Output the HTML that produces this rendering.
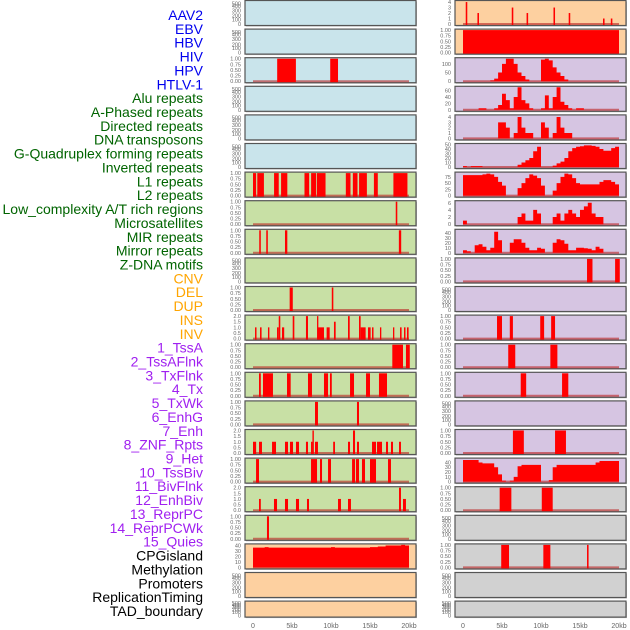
<!DOCTYPE html>
<html><head><meta charset="utf-8"><style>
html,body{margin:0;padding:0;background:#fff;width:630px;height:630px;overflow:hidden}
svg{display:block;font-family:"Liberation Sans",sans-serif}
</style></head><body>
<svg id="chart" width="630" height="630"></svg>
<script>
// ---- labels ----
const trackLabels=["AAV2","EBV","HBV","HIV","HPV","HTLV-1","Alu repeats","A-Phased repeats","Directed repeats","DNA transposons","G-Quadruplex forming repeats","Inverted repeats","L1 repeats","L2 repeats","Low_complexity A/T rich regions","Microsatellites","MIR repeats","Mirror repeats","Z-DNA motifs","CNV","DEL","DUP","INS","INV","1_TssA","2_TssAFlnk","3_TxFlnk","4_Tx","5_TxWk","6_EnhG","7_Enh","8_ZNF_Rpts","9_Het","10_TssBiv","11_BivFlnk","12_EnhBiv","13_ReprPC","14_ReprPCWk","15_Quies","CPGisland","Methylation","Promoters","ReplicationTiming","TAD_boundary"];
const labelGroups=[6,13,5,15,5];
const xTickValues=[0,5,10,15,20];
const xTickLabels=["0","5kb","10kb","15kb","20kb"];

// ---- left column interval data [startKb,endKb,value] ----
const L_hiv=[[3.1,5.5,1],[9.9,10.9,1]];
const L_r6=[[0,0.4,1],[0.55,1.4,1],[2.7,3.3,1],[3.6,4.4,1],[6.6,7.2,1],[7.45,8.1,1],[8.2,9.3,1],[11.9,12.5,1],[12.8,13.4,1],[13.6,14.6,1],[15.5,16,1],[18,19.8,1]];
const L_r7=[[18.3,18.5,1]];
const L_r8=[[0.8,1.0,1],[1.7,1.9,1],[4.1,4.4,1],[18.7,19.0,1]];
const L_r10=[[4.7,5.1,1],[10.1,10.3,1]];
const L_r11=[[0.26,0.45,1],[0.9,1.1,1],[1.92,2.1,1],[3.08,3.3,1],[3.3,3.5,2],[3.72,4.0,1],[5.09,5.3,2],[6.79,7.05,2],[8.21,8.33,2],[8.33,9.1,1],[9.44,9.83,1],[10.38,10.6,1.5],[12.18,12.4,2],[13.59,13.8,2],[13.8,14.44,1],[14.74,15.08,1],[15.26,15.45,1],[16.28,16.45,1],[17.95,18.1,1],[18.85,19.05,1],[19.36,19.55,1],[19.74,19.95,1]];
const L_r12=[[17.86,19.23,1],[19.61,20.1,1]];
const L_r13=[[0.77,1.0,1],[1.28,2.56,1],[4.36,4.83,1],[7.05,7.56,1],[9.1,9.62,1],[9.87,10.1,1],[12.44,12.95,1],[14.49,15.0,1],[16.15,17.18,1]];
const L_r14=[[7.95,8.33,1],[13.33,13.59,1]];
const L_r15=[[0,0.4,1],[0.77,1.15,1],[2.44,2.95,1],[4.1,4.49,1],[4.74,5.13,1],[5.51,5.9,1],[6.79,7.05,1],[7.44,7.62,1],[7.62,7.8,2],[7.95,8.33,1],[10.28,10.51,1],[12.18,12.44,1],[12.82,13.08,2],[13.33,13.59,1],[15.26,15.77,1],[15.9,16.54,1],[17.05,17.31,1],[17.69,17.95,1],[18.72,18.97,1]];
const L_r16=[[0.39,0.77,1],[7.44,8.21,1],[8.59,8.85,1],[9.62,10.0,1],[12.7,13.08,1],[13.2,13.59,1],[13.97,14.36,1],[15.0,15.77,1],[17.31,17.69,1]];
const L_r17=[[0.77,1.0,1],[2.69,3.08,1],[4.1,4.49,1],[5.51,5.9,1],[6.92,7.18,1],[10.9,11.28,1],[12.18,12.56,1],[18.72,18.97,2],[19.23,19.61,1]];
const L_r18=[[1.79,2.05,1]];
// binned (0.5kb) values
const L_cpg=[36,36,36,37,36,36,36,36,36,36,36,36,36,36,36,36,36,36,36,36,37,36,36,36,36,36,36,36,36,36,37,37,38,38,40,40,40,40,41,40];

// ---- right column ----
const R_aav=[[0.35,0.55,4],[1.85,2.05,2],[6.25,6.45,3],[8.15,8.35,2],[11.6,11.8,3],[13.55,13.75,2],[17.95,18.15,1],[18.95,19.15,1]];
const R_ebv=[[0,20,1]];
const R_a2=[0,0,0,0,0,0,0,5,15,50,100,130,130,100,50,30,10,0,0,0,125,130,120,80,50,30,10,0,0,0,0,0,0,0,0,0,0,0,0,0];
const R_a3=[0,0,0,0,5,5,0,0,5,15,50,30,5,40,70,30,20,5,0,0,5,45,5,40,70,25,15,5,0,5,5,0,0,0,0,0,0,0,0,0];
const R_a4=[0,0,0,0,0,0,0,0,0,3,3,2,0,1,4,2,1,1,0,0,3,2,0,1,4,2,1,1,0,0,0,0,0,0,0,0,0,0,0,0];
const R_a5=[2,0,2,2,2,0,0,0,0,0,0,0,0,0,5,10,15,20,35,45,0,0,0,3,8,12,20,35,42,45,46,48,48,47,45,40,36,36,42,45];
const R_a6=[82,82,82,82,82,85,88,85,75,55,40,0,0,0,30,50,70,85,80,70,40,0,0,20,50,75,88,85,70,50,45,45,45,45,45,55,62,62,55,45];
const R_a7=[1,0,0,0,0,0,0,0,0,0,0,0,0,0,2,3,1,1,4,3,0,0,0,2,3,1,3,4,3,2,4,5,6,3,2,2,0,0,0,0];
const R_a8=[5,3,0,15,17,12,5,10,42,25,0,0,20,27,27,20,10,5,5,10,8,0,0,20,27,25,18,5,5,10,10,9,8,5,12,8,0,0,0,0];
const R_r9=[[15.9,16.6,1],[19.5,20.1,1]];
const R_r11=[[4.36,5.0,1],[6.0,6.4,1],[9.9,10.4,1],[11.3,11.8,1]];
const R_r12=[[5.8,6.7,1],[11.2,12.1,1]];
const R_r13=[[7.4,8.1,1],[12.7,13.5,1]];
const R_r15=[[6.4,7.8,1],[11.8,13.2,1]];
const R_a16=[45,45,45,45,40,38,38,38,30,15,2,0,2,10,32,35,35,35,35,35,0,0,3,30,35,35,35,35,35,35,35,35,35,35,40,43,43,43,43,43];
const R_r17=[[4.7,6.2,1],[10.1,11.5,1]];
const R_r19=[[4.9,5.9,1],[10.3,11.2,1],[15.9,16.1,1]];

const T01=[[0,"0.00"],[0.25,"0.25"],[0.5,"0.50"],[0.75,"0.75"],[1,"1.00"]];
const T02=[[0,"0.0"],[0.5,"0.5"],[1,"1.0"],[1.5,"1.5"],[2,"2.0"]];
const BG={b:"#c9e4eb",g:"#c8e0a5",o:"#fdd0a0",p:"#d6c5e2",y:"#d1d1d1"};
function E(bg){return {bg:bg,type:"empty"};}
function B(bg,d,ymax,t){return {bg:bg,type:"bars",data:d,ymax:ymax,ticks:t};}
function A(bg,d,ymax,t){return {bg:bg,type:"area",data:d,ymax:ymax,ticks:t};}
const leftPanels=[E("b"),E("b"),B("b",L_hiv,1,T01),E("b"),E("b"),E("b"),
 B("g",L_r6,1,T01),B("g",L_r7,1,T01),B("g",L_r8,1,T01),E("g"),B("g",L_r10,1,T01),B("g",L_r11,2,T02),B("g",L_r12,1,T01),
 B("g",L_r13,1,T01),B("g",L_r14,1,T01),B("g",L_r15,2,T02),B("g",L_r16,1,T01),B("g",L_r17,2,T02),B("g",L_r18,1,T01),
 A("o",L_cpg,41,[[0,"0"],[10,"10"],[20,"20"],[30,"30"],[40,"40"]]),E("o"),E("o")];
const rightPanels=[B("o",R_aav,4.1,[[0,"0"],[1,"1"],[2,"2"],[3,"3"],[4,"4"]]),B("o",R_ebv,1,T01),
 A("p",R_a2,130,[[0,"0"],[50,"50"],[100,"100"]]),
 A("p",R_a3,70,[[0,"0"],[20,"20"],[40,"40"],[60,"60"]]),
 A("p",R_a4,4.2,[[0,"0"],[1,"1"],[2,"2"],[3,"3"],[4,"4"]]),
 A("p",R_a5,50,[[0,"0"],[10,"10"],[20,"20"],[30,"30"],[40,"40"],[50,"50"]]),
 A("p",R_a6,90,[[0,"0"],[25,"25"],[50,"50"],[75,"75"]]),
 A("p",R_a7,6.3,[[0,"0"],[2,"2"],[4,"4"],[6,"6"]]),
 A("p",R_a8,45,[[0,"0"],[10,"10"],[20,"20"],[30,"30"],[40,"40"]]),
 B("p",R_r9,1,T01),E("p"),B("p",R_r11,1,T01),B("p",R_r12,1,T01),B("p",R_r13,1,T01),E("p"),B("p",R_r15,1,T01),
 A("p",R_a16,47,[[0,"0"],[10,"10"],[20,"20"],[30,"30"],[40,"40"]]),
 B("y",R_r17,1,T01),E("y"),B("y",R_r19,1,T01),E("y"),E("y")];

const NS="http://www.w3.org/2000/svg";
const svg=document.getElementById("chart");
function mk(tag,attrs,parent){const e=document.createElementNS(NS,tag);for(const k in attrs)e.setAttribute(k,attrs[k]);(parent||svg).appendChild(e);return e;}

const groupColors=["#0000ee","#006400","#ffa500","#a020f0","#000000"];
let gi=0,gc=0;
trackLabels.forEach((t,i)=>{
  const el=mk("text",{x:203,y:15+i*13.86+5,"text-anchor":"end","font-size":"14",fill:groupColors[gi]});
  el.textContent=t;
  
  
  gc++; if(gi<4&&gc>=labelGroups[gi]){gi++;gc=0;}
});

function panel(col,i,p){
  const x0=col===0?245:455, w=171;
  const top=i*28.6+0.5, h=(i===21?16:25);
  const xs=kb=>x0+8+kb*7.8;
  const ys=v=>top+h-1.5-(v/p.ymax)*(h-2.5);
  const g=mk("g",{});
  
  
  mk("rect",{x:x0+1,y:top+1,width:w,height:h,fill:"#bbb"},g);
  mk("rect",{x:x0,y:top,width:w,height:h,fill:BG[p.bg],stroke:"#555","stroke-width":1.2},g);
  const tx=x0-4;
  if(p.type==="empty"){
    const fr=i===21?[[0,"0"],[0.25,"100"],[0.45,"200"],[0.65,"300"],[0.8,"400"],[0.92,"500"]]:[[0,"0"],[0.2,"100"],[0.37,"200"],[0.6,"300"],[0.8,"400"],[0.92,"500"]];
    fr.forEach(f=>{const t=mk("text",{x:tx,y:top+h-1.5-f[0]*(h-2.5)+2,"text-anchor":"end","font-size":"5.5",fill:"#666"},g);t.textContent=f[1];});
    return;
  }
  p.ticks.forEach(tk=>{const t=mk("text",{x:tx,y:ys(tk[0])+2,"text-anchor":"end","font-size":"5.5",fill:"#666"},g);t.textContent=tk[1];});
  mk("line",{x1:xs(0),x2:xs(20),y1:ys(0),y2:ys(0),stroke:"#b22",'stroke-opacity':0.6,"stroke-width":2},g);
  if(p.type==="bars"){
    p.data.forEach(d=>{
      const r=mk("rect",{x:xs(d[0]),y:ys(d[2]),width:Math.max(1.3,xs(d[1])-xs(d[0])),height:ys(0)-ys(d[2])+1,fill:"#ff0000"},g);
      
      
    });
  } else {
    let dstr="M"+xs(0)+","+ys(0);
    p.data.forEach((v,k)=>{dstr+=" L"+xs(k*0.5)+","+ys(v)+" L"+xs(k*0.5+0.5)+","+ys(v);});
    dstr+=" L"+xs(20)+","+ys(0)+"Z";
    const a=mk("path",{d:dstr,fill:"#ff0000"},g);
    
    
  }
}
leftPanels.forEach((p,i)=>panel(0,i,p));
rightPanels.forEach((p,i)=>panel(1,i,p));

[253,463].forEach((x0,c)=>{
  xTickValues.forEach((v,k)=>{
    const t=mk("text",{x:x0+v*7.8,y:628,"text-anchor":"middle","font-size":"7",fill:"#666"});
    t.textContent=xTickLabels[k];
    
    
  });
});
</script>
</body></html>
